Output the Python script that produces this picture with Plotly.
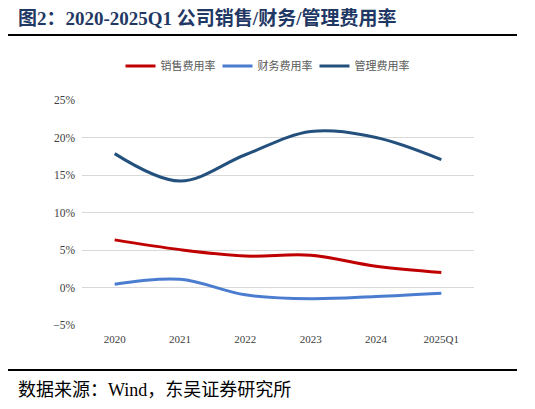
import plotly.graph_objects as go

categories = ["2020", "2021", "2022", "2023", "2024", "2025Q1"]
sales_rate = [0.0635, 0.0505, 0.042, 0.043, 0.0284, 0.020]
finance_rate = [0.0044, 0.011, -0.0098, -0.015, -0.012, -0.0075]
admin_rate = [0.1785, 0.142, 0.177, 0.208, 0.200, 0.1705]
series_names = ["销售费用率", "财务费用率", "管理费用率"]
colors = ["#C00000", "#4A7CCF", "#24507E"]

OFF = 8  # page body margin
W, H = 535 - OFF, 409 - OFF
L, R, T, B = 82 - OFF, 61, 100 - OFF, 84
pw, ph = W - L - R, H - T - B

def px2x(px):
    return (px - OFF - L) / pw

def py2y(py):
    return (H + OFF - B - py) / ph

fig = go.Figure()
for name, vals, c in zip(series_names, [sales_rate, finance_rate, admin_rate], colors):
    fig.add_trace(go.Scatter(
        x=categories, y=vals, name=name, mode="lines",
        line=dict(color=c, width=3, shape="spline", smoothing=1.0),
    ))

serif = "Liberation Serif, Noto Sans CJK SC"
fig.update_layout(
    width=W, height=H,
    margin=dict(l=L, r=R, t=T, b=B),
    paper_bgcolor="white", plot_bgcolor="white",
    showlegend=True,
    legend=dict(orientation="h", x=px2x(266), xanchor="center", y=py2y(66), yanchor="middle",
                font=dict(family=serif, size=11, color="#595959"), itemwidth=30,
                entrywidth=52, entrywidthmode="pixels",
                bgcolor="rgba(0,0,0,0)"),
    xaxis=dict(type="category", range=[-0.5, 5.5], showgrid=False, showline=False, ticks="",
               ticklabelstandoff=6,
               tickfont=dict(family=serif, size=11, color="#404040")),
    yaxis=dict(range=[-0.05, 0.25], dtick=0.05, tickformat=".0%", showgrid=True,
               gridcolor="#D9D9D9", gridwidth=1, zeroline=False, showline=False,
               ticks="", ticklabelstandoff=6,
               tickfont=dict(family=serif, size=11.5, color="#404040")),
    shapes=[
        dict(type="line", xref="paper", yref="paper", x0=px2x(8), x1=px2x(517),
             y0=py2y(35), y1=py2y(35), line=dict(color="#000000", width=2)),
        dict(type="line", xref="paper", yref="paper", x0=px2x(8), x1=px2x(517),
             y0=py2y(370), y1=py2y(370), line=dict(color="#000000", width=2)),
    ],
    annotations=[
        dict(text="<b>图2：2020-2025Q1 公司销售/财务/管理费用率</b>", xref="paper", yref="paper",
             x=px2x(16), y=py2y(18), xanchor="left", yanchor="middle", showarrow=False,
             font=dict(family=serif, size=19, color="#1F3864")),
        dict(text="数据来源：Wind，东吴证券研究所", xref="paper", yref="paper",
             x=px2x(16), y=py2y(390), xanchor="left", yanchor="middle", showarrow=False,
             font=dict(family=serif, size=18, color="#000000")),
    ],
)

fig.write_html("out.html")
